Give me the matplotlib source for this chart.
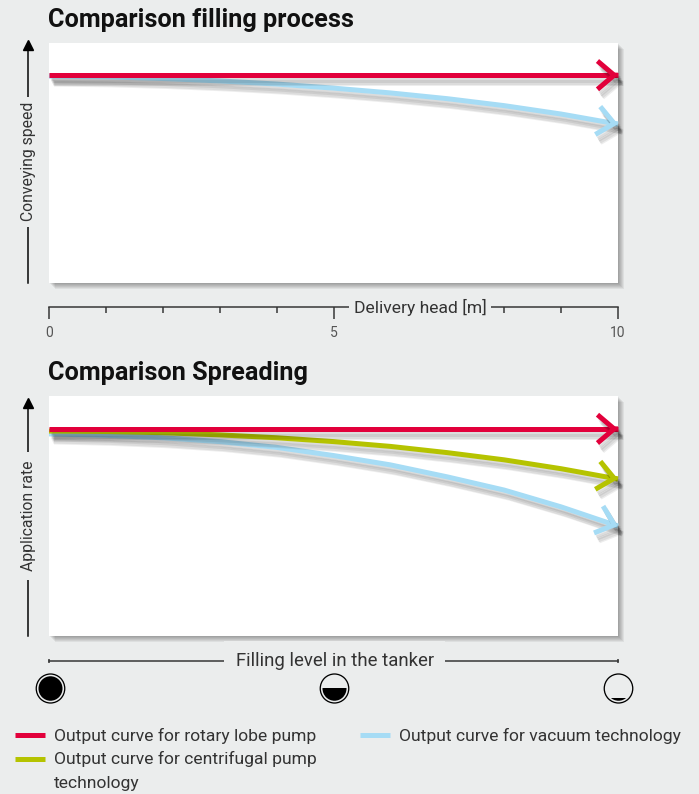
import matplotlib
matplotlib.use('Agg')
import matplotlib.pyplot as plt
import matplotlib.patheffects as pe
from matplotlib.lines import Line2D
from matplotlib.patches import Ellipse, Rectangle

W, H = 699, 794
BG = '#ebeded'
RED = '#e2003b'
BLUE = '#a6dcf5'
GREEN = '#b5c300'
DARK = '#333333'

plt.rcParams['font.family'] = ['Roboto', 'DejaVu Sans']

# values, y in % of the panel height
x_vals = [0, 1, 2, 3, 4, 5, 6, 7, 8, 9, 10]
fill_red = [86.6, 86.6, 86.6, 86.6, 86.6, 86.6, 86.6, 86.6, 86.6, 86.6, 86.6]
fill_blue = [86.2, 85.9, 85.2, 84.2, 82.9, 81.2, 79.2, 76.8, 73.9, 70.4, 66.2]
spread_red = [86.3, 86.3, 86.3, 86.3, 86.3, 86.3, 86.3, 86.3, 86.3, 86.3, 86.3]
spread_green = [85.4, 85.2, 84.7, 83.8, 82.6, 81.0, 79.0, 76.4, 73.4, 69.7, 65.4]
spread_blue = [84.2, 83.6, 82.6, 81.0, 78.6, 75.2, 71.3, 66.3, 60.8, 53.8, 45.8]

major_ticks = [0, 5, 10]
minor_ticks = [1, 2, 3, 4, 6, 7, 8, 9]
tick_labels = ['0', '5', '10']
level_ticks = [0, 10]
tank_levels = [1.0, 0.52, 0.1]
legend_labels = ['Output curve for rotary lobe pump',
                 'Output curve for centrifugal pump\ntechnology',
                 'Output curve for vacuum technology']


def px(v):
    return v * 0.72


def line_shadow():
    return [pe.SimpleLineShadow(offset=(px(a), -px(b)), shadow_color='k', alpha=0.07)
            for a, b in [(2, 3), (3, 5), (4, 7), (5, 8)]] + [pe.Normal()]


def draw_curve(ax, y, color):
    ax.plot(x_vals, y, color=color, lw=px(5), solid_capstyle='butt', clip_on=False,
            path_effects=line_shadow())
    # nearly no shaft, so only the chevron is added on top of the line
    start_x = x_vals[-2] + 0.99 * (x_vals[-1] - x_vals[-2])
    start_y = y[-2] + 0.99 * (y[-1] - y[-2])
    ax.annotate('', xy=(x_vals[-1], y[-1]), xytext=(start_x, start_y),
                arrowprops=dict(arrowstyle='->,head_length=1.0,head_width=0.85', color=color,
                                lw=px(5), shrinkA=0, shrinkB=0, mutation_scale=12,
                                capstyle='butt', joinstyle='miter',
                                path_effects=line_shadow()),
                annotation_clip=False)


def make_panel(top, title, ylabel, ylab_y, tip_y, gap):
    ax = fig.add_axes([49 / W, 1 - (top + 240) / H, 569 / W, 240 / H])
    ax.set_xlim(0, 10)
    ax.set_ylim(0, 100)
    ax.set_facecolor('white')
    ax.patch.set_path_effects(
        [pe.SimplePatchShadow(offset=(px(a), -px(b)), shadow_rgbFace='k', alpha=0.06)
         for a, b in [(1, 1), (2, 2), (3, 3), (4, 4), (5, 5), (6, 6)]] + [pe.Normal()])
    ax.spines['top'].set_visible(False)
    ax.spines['right'].set_visible(False)
    ax.spines['left'].set_position(('outward', px(21)))
    ax.spines['bottom'].set_position(('outward', px(24)))
    ax.spines['left'].set_color('black')
    ax.spines['bottom'].set_color(DARK)
    ax.spines['left'].set_linewidth(px(1.5))
    ax.spines['bottom'].set_linewidth(px(1.5))
    ax.spines['left'].set_bounds(0, tip_y * 100)
    ax.set_yticks([])
    ax.text(-1 / 569, 1.095, title, transform=ax.transAxes, fontsize=18.2,
            fontweight='bold', color='#111111', va='center', ha='left')
    ax.text(-21 / 569, ylab_y, ylabel, transform=ax.transAxes, rotation=90, fontsize=11.3,
            color=DARK, ha='center', va='center',
            bbox=dict(facecolor=BG, edgecolor='none', pad=gap), zorder=5, clip_on=False)
    ax.plot([-21 / 569], [tip_y], marker='^', ms=px(10), color='black', transform=ax.transAxes,
            clip_on=False)
    return ax


fig = plt.figure(figsize=(W / 100, H / 100), dpi=100, facecolor=BG)

# filling process
ax1 = make_panel(43, 'Comparison filling process', 'Conveying speed', 0.505, 0.99, 4)
draw_curve(ax1, fill_blue, BLUE)
draw_curve(ax1, fill_red, RED)
ax1.set_xticks(major_ticks)
ax1.set_xticklabels(tick_labels)
ax1.set_xticks(minor_ticks, minor=True)
ax1.tick_params(axis='x', which='major', length=px(12), width=px(1.5), color=DARK,
                labelsize=10, labelcolor='#555555', pad=px(7))
ax1.tick_params(axis='x', which='minor', length=px(6), width=px(1.5), color=DARK)
ax1.text(6.52, -0.104, 'Delivery head [m]', transform=ax1.get_xaxis_transform(), fontsize=12.6,
         color=DARK, ha='center', va='center', clip_on=False,
         bbox=dict(facecolor=BG, edgecolor='none', pad=3.5), zorder=5)

# spreading
ax2 = make_panel(396, 'Comparison Spreading', 'Application rate', 0.5, 0.971, 6)
draw_curve(ax2, spread_blue, BLUE)
draw_curve(ax2, spread_green, GREEN)
draw_curve(ax2, spread_red, RED)
ax2.set_xticks(level_ticks)
ax2.set_xticklabels([])
ax2.tick_params(axis='x', length=px(5), width=px(1.5), color=DARK, direction='inout')
ax2.spines['bottom'].set_position(('outward', px(25)))
ax2.text(5.02, -0.104, 'Filling level in the tanker',
         transform=ax2.get_xaxis_transform(), fontsize=13.4, color=DARK, ha='center',
         va='center', clip_on=False, bbox=dict(facecolor=BG, edgecolor='none', pad=8), zorder=5)

# tanker icons
over = fig.add_axes([0, 0, 1, 1], facecolor='none')
over.set_xlim(0, W)
over.set_ylim(H, 0)
over.axis('off')
for cx, level in zip([50.5, 334.5, 618.5], tank_levels):
    cy = 688.5
    over.add_patch(Ellipse((cx, cy), 28.5, 29, facecolor=BG, edgecolor='black', lw=px(1.3)))
    body = Ellipse((cx, cy), 24, 24.5, facecolor='black', edgecolor='none')
    over.add_patch(body)
    h = 24.5 * level
    clip = Rectangle((cx - 14, cy + 12.25 - h), 28, h, transform=over.transData)
    body.set_clip_path(clip)

# legend
handles = [Line2D([], [], color=c, lw=px(5), solid_capstyle='butt') for c in (RED, GREEN, BLUE)]
leg = fig.legend(handles, legend_labels, ncol=2, frameon=False, loc='upper left',
                 bbox_to_anchor=(15 / W, 1 - 728 / H), borderaxespad=0, borderpad=0,
                 fontsize=12.6, labelcolor=DARK, handlelength=1.71, handletextpad=0.51,
                 columnspacing=2.5, labelspacing=0.42)
for t in leg.get_texts():
    t.set_linespacing(1.68)
# handle of the wrapped entry sits at its first line
green_handle = leg.legend_handles[1]
green_handle.set_ydata(green_handle.get_ydata() + px(12))

fig.savefig('out.png', dpi=100, facecolor=BG)
